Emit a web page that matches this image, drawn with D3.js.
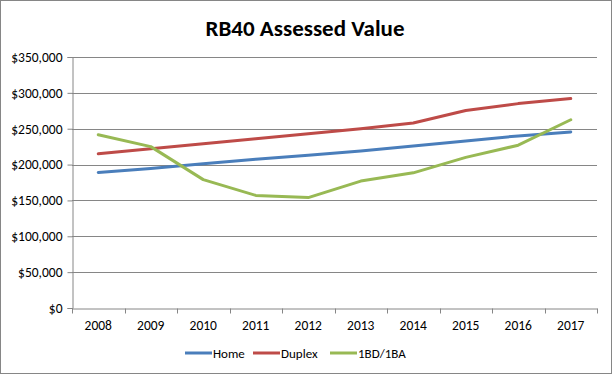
<!DOCTYPE html>
<html>
<head>
<meta charset="utf-8">
<title>RB40 Assessed Value</title>
<style>
  * { margin: 0; padding: 0; }
  body { background: #fff; width: 614px; height: 376px; overflow: hidden; }
  text { font-family: Carlito, Lato, "Open Sans", sans-serif; fill: #000; }
</style>
</head>
<body>
<svg id="chart"></svg>
<script src="https://cdnjs.cloudflare.com/ajax/libs/d3/7.8.5/d3.min.js"></script>
<script>
const years = ['2008', '2009', '2010', '2011', '2012', '2013', '2014', '2015', '2016', '2017'];
const home = [189000, 194500, 201000, 207500, 213000, 219000, 226000, 233000, 240000, 245500];
const duplex = [215000, 222000, 229000, 236000, 243000, 250000, 258000, 275500, 285000, 292000];
const oneBed = [241500, 225000, 179000, 157000, 154000, 177000, 188500, 210000, 227000, 262500];
const seriesNames = ['Home', 'Duplex', '1BD/1BA'];
const yTicks = [0, 50000, 100000, 150000, 200000, 250000, 300000, 350000];

const colors = ['#4a7ebb', '#be4b48', '#98b954'];
const series = [home, duplex, oneBed].map((values, i) => ({ name: seriesNames[i], values, color: colors[i] }));

const W = 614, H = 376;
const margin = { top: 57, right: 17, bottom: 68, left: 72 };

const svg = d3.select('#chart').attr('width', W).attr('height', H);

// outer border like the spreadsheet chart area
svg.append('rect')
  .attr('x', 0.5).attr('y', 0.5)
  .attr('width', W - 3).attr('height', H - 3)
  .attr('fill', '#fff').attr('stroke', '#868686');

svg.append('text')
  .attr('x', 305).attr('y', 36)
  .attr('text-anchor', 'middle')
  .style('font-size', '23px').style('font-weight', 'bold')
  .text('RB40 Assessed Value');

const x = d3.scaleBand().domain(years).range([margin.left, W - margin.right]);
const y = d3.scaleLinear().domain([0, 350000]).range([H - margin.bottom, margin.top]);

// gridlines
svg.append('g')
  .selectAll('line')
  .data(yTicks.slice(1))
  .enter().append('line')
  .attr('x1', margin.left).attr('x2', W - margin.right)
  .attr('y1', d => Math.round(y(d)) + 0.5).attr('y2', d => Math.round(y(d)) + 0.5)
  .attr('stroke', '#868686');

const yAxis = svg.append('g')
  .attr('transform', `translate(${margin.left + 0.5},0)`)
  .call(d3.axisLeft(y).tickValues(yTicks).tickSize(5).tickPadding(5)
    .tickFormat(d => '$' + d3.format(',')(d)));
yAxis.selectAll('line').attr('stroke', '#868686');
yAxis.select('.domain').attr('stroke', '#868686');
yAxis.selectAll('text').style('font-size', '13.5px').style('font-family', 'Carlito, Lato, sans-serif');

const xAxis = svg.append('g')
  .attr('transform', `translate(0,${Math.round(y(0)) + 0.5})`)
  .call(d3.axisBottom(x).tickSize(0).tickPadding(12));
xAxis.select('.domain').attr('stroke', '#868686');
xAxis.selectAll('text').style('font-size', '13.5px').style('font-family', 'Carlito, Lato, sans-serif');

// tick marks at category boundaries
xAxis.append('g')
  .selectAll('line')
  .data(years.concat(['end']))
  .enter().append('line')
  .attr('x1', (d, i) => Math.round(margin.left + i * x.step()) + 0.5)
  .attr('x2', (d, i) => Math.round(margin.left + i * x.step()) + 0.5)
  .attr('y1', 0).attr('y2', 5)
  .attr('stroke', '#868686');

const line = d3.line()
  .x((d, i) => x(years[i]) + x.bandwidth() / 2)
  .y(d => y(d));

svg.append('g')
  .selectAll('path')
  .data(series)
  .enter().append('path')
  .attr('d', d => line(d.values))
  .attr('fill', 'none')
  .attr('stroke', d => d.color)
  .attr('stroke-width', 3)
  .attr('stroke-linejoin', 'round')
  .attr('stroke-linecap', 'round');

// legend
const legendX = [185, 253, 330];
const legend = svg.append('g')
  .selectAll('g')
  .data(series)
  .enter().append('g')
  .attr('transform', (d, i) => `translate(${legendX[i]},353)`);
legend.append('line')
  .attr('x1', 0).attr('x2', 27).attr('y1', 0).attr('y2', 0)
  .attr('stroke', d => d.color).attr('stroke-width', 3);
legend.append('text')
  .attr('x', 28).attr('y', 4.5)
  .style('font-size', '13px')
  .text(d => d.name);
</script>
</body>
</html>
